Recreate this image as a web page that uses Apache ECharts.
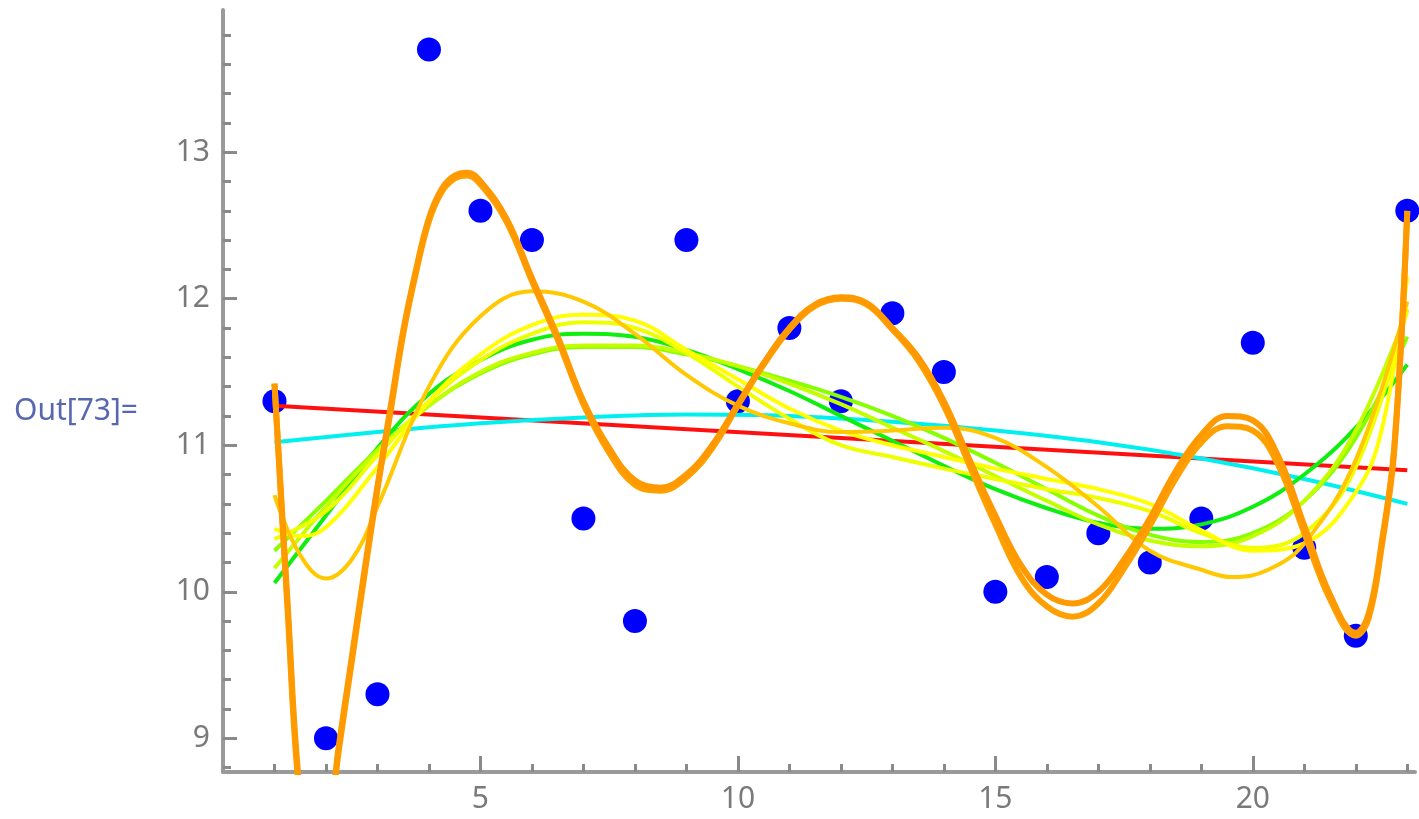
<!DOCTYPE html>
<html>
<head>
<meta charset="utf-8">
<script src="https://cdn.jsdelivr.net/npm/echarts@6/dist/echarts.min.js"></script>
<style>
  html, body { margin: 0; padding: 0; background: #fff; }
  #main { width: 1419px; height: 819px; }
</style>
</head>
<body>
<div id="main"></div>
<script>
// data points
var pointX = [1, 2, 3, 4, 5, 6, 7, 8, 9, 10, 11, 12, 13, 14, 15, 16, 17, 18, 19, 20, 21, 22, 23];
var pointY = [11.3, 9.0, 9.3, 13.7, 12.6, 12.4, 10.5, 9.8, 12.4, 11.3, 11.8, 11.3, 11.9, 11.5, 10.0, 10.1, 10.4, 10.2, 10.5, 11.7, 10.3, 9.7, 12.6];

// fitted curves
var xsInt = [1, 2, 3, 4, 5, 6, 7, 8, 9, 10, 11, 12, 13, 14, 15, 16, 17, 18, 19, 20, 21, 22, 23];

var redX = [1, 23];
var redY = [11.27, 10.83];

var cyanX = [1, 3, 5, 7, 9, 11, 13, 15, 17, 19, 21, 23];
var cyanY = [11.02, 11.09, 11.15, 11.19, 11.21, 11.2, 11.16, 11.1, 11.02, 10.91, 10.77, 10.6];

var greenY = [10.06, 10.52, 10.98, 11.35, 11.58, 11.72, 11.76, 11.74, 11.65, 11.52, 11.37, 11.2, 11.03, 10.86, 10.7, 10.57, 10.47, 10.43, 10.46, 10.58, 10.8, 11.12, 11.55];
var limeY = [10.28, 10.62, 10.97, 11.27, 11.49, 11.62, 11.67, 11.67, 11.62, 11.54, 11.44, 11.33, 11.2, 11.05, 10.88, 10.7, 10.52, 10.39, 10.34, 10.4, 10.62, 11.05, 11.74];
var lime2Y = [10.16, 10.58, 10.96, 11.27, 11.5, 11.63, 11.68, 11.68, 11.63, 11.54, 11.42, 11.28, 11.12, 10.96, 10.79, 10.62, 10.46, 10.35, 10.31, 10.38, 10.62, 11.1, 11.92];
var yellow2Y = [10.36, 10.55, 10.93, 11.3, 11.58, 11.76, 11.84, 11.8, 11.63, 11.4, 11.18, 11.0, 10.92, 10.84, 10.77, 10.7, 10.64, 10.55, 10.4, 10.3, 10.4, 10.85, 11.93];

var yellowX = [1, 1.5, 2, 3, 4, 5, 6, 7, 8, 9, 10, 11, 12, 13, 14, 15, 16, 17, 18, 19, 20, 21, 22, 22.5, 23];
var yellowY = [10.43, 10.38, 10.44, 10.85, 11.3, 11.62, 11.82, 11.89, 11.85, 11.65, 11.45, 11.25, 11.1, 11.0, 10.92, 10.84, 10.77, 10.7, 10.6, 10.42, 10.28, 10.33, 10.68, 11.1, 12.15];

var goldX = [1, 1.5, 2, 2.5, 3, 4, 5, 6, 7, 8, 9, 10, 11, 12, 13, 14, 15, 16, 17, 18, 19, 19.6, 20.3, 21, 22, 23];
var goldY = [10.66, 10.25, 10.09, 10.22, 10.58, 11.4, 11.88, 12.05, 11.98, 11.76, 11.48, 11.27, 11.15, 11.09, 11.1, 11.12, 11.05, 10.85, 10.58, 10.28, 10.15, 10.1, 10.15, 10.33, 10.9, 11.98];

var orangeX = [1, 1.25, 1.5, 1.75, 2, 2.25, 2.5, 2.75, 3, 3.25, 3.5, 3.75, 4, 4.25, 4.5, 4.75, 5, 5.5, 6, 6.5, 7, 7.5, 8, 8.5, 9, 9.5, 10, 10.5, 11, 11.5, 12, 12.5, 13, 13.5, 14, 14.5, 15, 15.5, 16, 16.5, 17, 17.5, 18, 18.5, 19, 19.5, 20, 20.5, 21, 21.5, 22, 22.25, 22.5, 22.75, 23];
var orangeY = [11.42, 9.95, 8.6, 8.2, 8.3, 8.95, 9.55, 10.15, 10.72, 11.25, 11.78, 12.2, 12.55, 12.75, 12.84, 12.86, 12.8, 12.55, 12.14, 11.74, 11.3, 10.98, 10.76, 10.71, 10.8, 11.0, 11.28, 11.56, 11.8, 11.96, 12.01, 11.97, 11.8, 11.6, 11.3, 10.9, 10.52, 10.18, 9.98, 9.92, 10.0, 10.22, 10.5, 10.82, 11.07, 11.2, 11.17, 10.92, 10.45, 9.98, 9.72, 9.85, 10.33, 11.0, 12.6];
var orange2Y = [11.42, 9.9, 8.55, 8.15, 8.28, 8.92, 9.52, 10.12, 10.7, 11.22, 11.76, 12.18, 12.53, 12.73, 12.82, 12.84, 12.78, 12.53, 12.12, 11.72, 11.28, 10.95, 10.73, 10.69, 10.78, 10.98, 11.27, 11.55, 11.79, 11.95, 12.0, 11.96, 11.79, 11.58, 11.27, 10.86, 10.46, 10.1, 9.9, 9.83, 9.92, 10.16, 10.45, 10.77, 11.02, 11.13, 11.1, 10.86, 10.4, 9.95, 9.7, 9.82, 10.3, 10.98, 12.6];

// axis ticks
var xMajor = [5, 10, 15, 20];
var xMinor = [1, 2, 3, 4, 6, 7, 8, 9, 11, 12, 13, 14, 16, 17, 18, 19, 21, 22, 23];
var yMajor = [9, 10, 11, 12, 13];
var yMinor = [8.8, 9.2, 9.4, 9.6, 9.8, 10.2, 10.4, 10.6, 10.8, 11.2, 11.4, 11.6, 11.8, 12.2, 12.4, 12.6, 12.8, 13.2, 13.4, 13.6, 13.8];

function pairs(xs, ys) {
    var out = [];
    for (var i = 0; i < xs.length; i++) out.push([xs[i], ys[i]]);
    return out;
}

function curve(xs, ys, color, width) {
    return {
        type: 'line',
        data: pairs(xs, ys),
        smooth: 0.4,
        showSymbol: false,
        symbol: 'none',
        clip: true,
        lineStyle: { color: color, width: width },
        silent: true
    };
}

var X_MIN = 0, X_MAX = 23.15, Y_MIN = 8.77, Y_MAX = 13.97;
var labelFont = { fontSize: 30, color: '#7a7a7a', fontFamily: 'Noto Sans' };

var myChart = echarts.init(document.getElementById('main'));

var option = {
    animation: false,
    backgroundColor: '#fff',
    grid: { left: 223, top: 10, width: 1192, height: 762 },
    xAxis: [
        {
            type: 'value', min: X_MIN, max: X_MAX, position: 'bottom',
            splitLine: { show: false },
            axisLine: { show: true, onZero: false, lineStyle: { color: '#9a9a9a', width: 4 } },
            axisTick: { show: true, inside: true, length: 16, customValues: xMajor, lineStyle: { color: '#8a8a8a', width: 3 } },
            axisLabel: Object.assign({ margin: 12, customValues: xMajor }, labelFont)
        },
        {
            type: 'value', min: X_MIN, max: X_MAX, position: 'bottom',
            splitLine: { show: false },
            axisLine: { show: false, onZero: false },
            axisTick: { show: true, inside: true, length: 8, customValues: xMinor, lineStyle: { color: '#8a8a8a', width: 3 } },
            axisLabel: { show: false }
        }
    ],
    yAxis: [
        {
            type: 'value', min: Y_MIN, max: Y_MAX, position: 'left',
            splitLine: { show: false },
            axisLine: { show: true, onZero: false, lineStyle: { color: '#9a9a9a', width: 4 } },
            axisTick: { show: true, inside: true, length: 14, customValues: yMajor, lineStyle: { color: '#8a8a8a', width: 3 } },
            axisLabel: Object.assign({ margin: 13, customValues: yMajor }, labelFont)
        },
        {
            type: 'value', min: Y_MIN, max: Y_MAX, position: 'left',
            splitLine: { show: false },
            axisLine: { show: false, onZero: false },
            axisTick: { show: true, inside: true, length: 8, customValues: yMinor, lineStyle: { color: '#8a8a8a', width: 3 } },
            axisLabel: { show: false }
        }
    ],
    graphic: [{
        type: 'text', left: 14, top: 396,
        style: { text: 'Out[73]=', fontSize: 30, fill: '#5868b0', fontFamily: 'Noto Sans' }
    }],
    series: [
        {
            type: 'scatter',
            data: pairs(pointX, pointY),
            symbolSize: 24,
            itemStyle: { color: '#0000ff', opacity: 1 },
            silent: true
        },
        curve(redX, redY, '#ff1010', 4),
        curve(cyanX, cyanY, '#00f0f0', 4),
        curve(xsInt, greenY, '#10ee10', 4),
        curve(xsInt, limeY, '#88ff00', 4),
        curve(xsInt, lime2Y, '#c4ff00', 4),
        curve(xsInt, yellow2Y, '#eeff00', 4),
        curve(yellowX, yellowY, '#ffff00', 4),
        curve(goldX, goldY, '#ffc800', 4),
        curve(orangeX, orange2Y, '#ffa000', 6),
        curve(orangeX, orangeY, '#ff9900', 6)
    ]
};

myChart.setOption(option);
</script>
</body>
</html>
